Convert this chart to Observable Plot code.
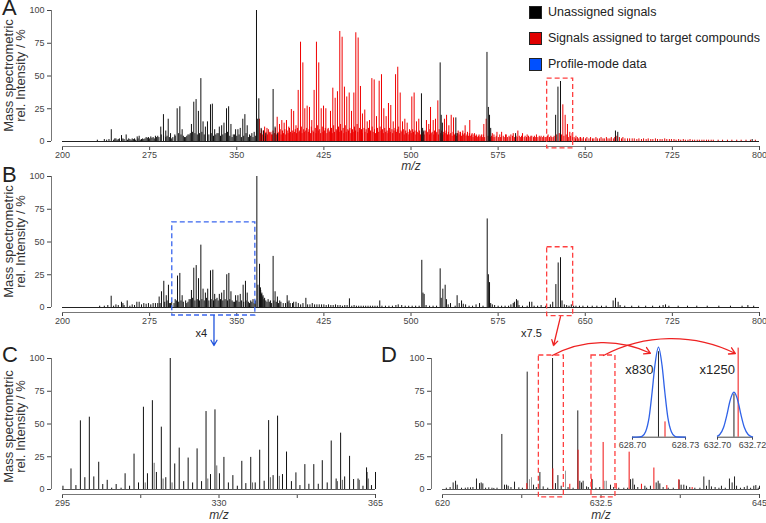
<!DOCTYPE html>
<html><head><meta charset="utf-8">
<script src="https://cdn.jsdelivr.net/npm/d3@7"></script>
<script src="https://cdn.jsdelivr.net/npm/@observablehq/plot@0.6"></script>
<style>
body{margin:0;background:#fff;}
#wrap{position:relative;width:766px;height:523px;overflow:hidden;font-family:"Liberation Sans",Arial,sans-serif;background:#fff;}
.abs{position:absolute;}
.letter{font-size:22px;line-height:22px;color:#222;}
.leg{font-size:12.5px;color:#222;line-height:14px;white-space:nowrap;}
.sw{width:11px;height:11px;border:1px solid #222;}
</style></head><body><div id="wrap">
<div class="abs letter" style="left:2px;top:-3px">A</div>
<div class="abs letter" style="left:2px;top:164px">B</div>
<div class="abs letter" style="left:2px;top:344px">C</div>
<div class="abs letter" style="left:381px;top:344px">D</div>
<div class="abs sw" style="left:529px;top:6px;background:#000"></div>
<div class="abs leg" style="left:548px;top:5px">Unassigned signals</div>
<div class="abs sw" style="left:529px;top:32px;background:#e00000"></div>
<div class="abs leg" style="left:548px;top:31px">Signals assigned to target compounds</div>
<div class="abs sw" style="left:529px;top:58px;background:#0050ff"></div>
<div class="abs leg" style="left:548px;top:57px">Profile-mode data</div>
</div>
<script>
const FONT = '"Liberation Sans", Arial, sans-serif';
const wrap = document.getElementById("wrap");

// ---------- axis ticks ----------
const abTicks = [200,275,350,425,500,575,650,725,800];
const cTicks = [295,312.5,330,347.5,365];
const cTickLabels = [295,330,365];
const dTicks = [620,626.25,632.5,638.75,645];
const dTickLabels = [620,632.5,645];
const yTicks = [0,25,50,75,100];
const yTitle = "Mass spectrometric\nrel. Intensity / %";

// ---------- Panel A ----------
const aBlackMain = [[242,9],[246,2],[248,1.5],[250.8,4.5],[252,2],[254.8,5],[258,1.5],[262,2],[264.3,3.5],[266,4],[268,1.5],[272,3],[274,3],[276,3.5],[278,3],[280,4],[282,4],[284.6,11],[286.9,20.5],[288.9,8],[291,17],[293,6],[296.7,5],[298.7,25],[301,26.5],[303,9],[305,3],[307,4],[309,5],[311,13],[313,30],[315,32],[317,23],[319.1,48],[321,15],[323,11],[324.8,15],[327.4,28],[329,28.5],[331,9],[333,6],[335,11],[337,12],[339,14],[341.2,25],[343,26.5],[345,13],[347,5],[349,9],[351,9],[353,10],[355.2,17],[357,20.5],[359,12],[361,5],[363,6],[365,7],[367,100],[368,17],[369,32.6],[371,10],[373,8],[375,6],[381.3,39.7],[383,11],[385,6],[509,36.4],[510,10],[511,8],[525.1,60],[526,20],[527,14],[538.6,18],[539.6,6],[565.4,68],[566.6,26],[567.6,20],[568.6,10],[590,6],[624.5,20],[626.5,41.5],[628.7,45.8],[676,8],[678,7],[793.7,1.5]];
const aBlackFloor = [[230,1],[236,1.5],[238,1],[240,1.5],[244,1],[245,2],[247,1],[249,2],[251,1.5],[253,1.5],[256,1],[257,2],[259,1],[260,2],[261,1.5],[263,1],[265,2],[267,1],[269,2],[270,1.5],[271,2],[273,2.5],[275,2],[277,2.5],[279,2],[281,3],[283,3],[285,5],[287,4],[289,3],[290,4],[292,3],[294,2],[295,3],[297,4],[300,6],[302,5],[304,4],[306,3],[308,5],[310,6],[312,7],[314,6],[316,5],[318,6],[320,7],[322,5],[326,5],[328,6],[330,4],[332,5],[334,6],[336,4],[338,5],[340,6],[342,7],[344,4],[346,3],[348,5],[350,4],[352,5],[354,3],[356,4],[358,6],[360,3],[362,4],[364,3],[366,4]];
const aRedMain = [[369.5,17],[371.5,8],[374,11],[376,10],[378,7],[380,5],[384.8,18.5],[386.8,13],[388.8,16],[390.8,14],[392.8,16],[394.8,11],[397,24.4],[399,23],[401,12],[402.9,39],[404.9,75.8],[406.9,60],[408.6,25],[410.6,27],[412.6,26],[414.6,16],[416.6,39],[418.6,75.8],[420.6,60],[422.7,25],[424.7,27],[426.7,25],[428.7,10],[430.7,23],[432.7,40.7],[434.7,33],[436.7,38],[438.7,84],[440.7,79.6],[442.7,41.5],[444.7,34],[446.8,37],[448.8,23],[450.8,37],[452.5,83],[454.5,79],[456.5,42],[458.2,21],[460.2,24],[462.3,15],[464.3,16],[466.3,48],[468.3,47],[470.3,19],[472.6,46],[474.6,51],[476.6,25],[478.6,19],[480.6,29],[482.6,27.5],[484.7,15],[486.7,51],[488.6,56.7],[490.7,37],[492.7,15],[494.7,17],[496.7,14],[498.7,9],[500.7,34],[502.7,37],[504.7,15],[506.7,17],[513.3,16],[515.3,13],[516.8,26],[519.1,16],[521.1,17],[523.1,31],[528.8,17],[530.6,20],[532.6,12],[534.6,20],[536.6,18],[540.6,8],[542.6,7],[544.6,8],[546.6,12],[548.6,7],[550.6,16],[552.6,6],[554.6,6],[556.6,4],[558.6,5],[560.6,5],[562.7,13],[564.7,17],[570,6],[574,7],[578,7],[582,5],[586,5],[588,6],[592,8],[596,6],[600,5],[604,4],[608,5],[612,4],[618,5],[630.7,28],[632.7,20],[634.7,13],[636.7,7],[638.7,6],[642,4],[646,3]];
const aRedFloor = [[370.4,6],[371.2,9],[372.4,5],[373.2,8],[374.6,4],[375.2,7],[376.4,5],[377.2,9],[378.6,6],[379.4,7],[380.6,5],[381.2,8],[382.4,6],[383.2,10],[384.4,5],[385.6,7],[386.2,6],[387.4,9],[388.2,5],[389.4,8],[390.2,6],[391.4,9],[392.2,5],[393.4,8],[394.2,6],[395.4,10],[396.2,7],[397.8,6],[398.2,8],[399.6,7],[400.4,9],[401.4,6],[402.2,10],[403.6,7],[404.2,8],[405.6,11],[406.2,6],[407.6,9],[408.2,7],[409.4,8],
[410.2,10],[411.6,7],[412.2,9],[413.4,6],[414.2,11],[415.6,8],[416.2,7],[417.6,10],[418.2,6],[419.4,12],[420.2,8],[421.4,9],[422.2,6],[423.6,11],[424.2,7],[425.4,8],[426.2,10],[427.6,6],[428.4,9],[429.6,7],[430.2,8],[431.6,10],[432.2,6],[433.4,12],[434.2,7],[435.6,9],[436.2,8],[437.6,11],[438.2,7],[439.4,13],[440.2,8],[441.6,10],[442.2,6],[443.4,12],[444.2,7],[445.6,9],[446.2,8],[447.4,10],[448.2,6],[449.6,9],[450.2,7],[451.4,11],[452.2,8],[453.6,13],[454.2,7],[455.6,10],[456.2,8],[457.4,9],[458.2,6],[459.6,10],
[460.4,7],[461.4,9],[462.6,6],[463.4,10],[464.6,7],[465.2,8],[466.6,11],[467.4,7],[468.6,9],[469.4,6],[470.6,8],[471.2,10],[472.2,7],[473.4,11],[474.2,8],[475.4,9],[476.2,6],[477.4,10],[478.2,7],[479.4,8],[480.2,6],[481.4,10],[482.2,7],[483.6,9],[484.2,6],[485.4,8],[486.2,10],[487.4,7],[488.2,9],[489.4,11],[490.2,6],[491.4,8],[492.2,7],[493.4,9],[494.2,5],[495.4,8],[496.2,6],[497.4,7],[498.2,5],[499.4,8],[500.2,6],[501.4,9],[502.2,7],[503.4,8],[504.2,5],[505.4,7],[506.2,6],[507.4,8],[508.2,5],[509.6,6],[510.6,7],[511.4,5],[512.2,8],[513.8,6],[514.4,7],[515.8,5],[516.2,9],[517.4,6],[518.2,7],[519.6,5],
[520.2,8],[521.6,6],[522.2,7],[523.6,5],[524.2,9],[525.6,6],[526.4,8],[527.6,5],[528.2,7],[529.4,6],[530.2,8],[531.4,5],[532.2,7],[533.4,5],[534.2,6],[535.4,4],[536.2,7],[537.4,5],[538.2,6],[539.4,4],[540.2,6],[541.4,5],[542.2,7],[543.4,4],[544.2,6],[545.4,5],[546.2,6],[547.4,4],[548.2,5],[549.4,4],[550.2,6],[551.4,4],[552.2,5],[553.4,3],[554.2,5],[555.4,4],[556.2,5],[557.4,3],[558.2,4],[559.4,3],
[560.2,4],[561.4,3],[562.2,5],[563.4,3],[566.4,4],[568.2,3],[569.4,4],[570.6,3],[571.4,5],[572.2,3],[573.4,4],[575.2,3],[576.4,5],[577.2,3],[579.4,4],[580.2,3],[581.4,5],[583.2,3],[584.4,4],[585.2,3],[587.4,4],[589.2,3],[590.4,4],[591.4,3],[593.2,4],[594.4,3],[595.2,4],[597.4,3],[598.2,4],[599.4,3],[601.2,4],[602.4,3],[603.2,4],[605.4,3],[606.2,4],[607.4,3],[609.2,3],[610.4,4],[611.2,3],[613.4,3],[614.2,4],[615.4,3],[616.2,3],[617.4,4],[619.2,3],[620.4,4],[621.2,3],[622.4,3],[623.2,4],[625.4,5],[627.6,6],[629.6,5],[631.6,4],[633.6,5],[635.4,3],[637.4,4],[639.2,3],
[640.4,3],[641.6,2],[643.2,3],[644.4,2],[645.6,3],[647.2,2],[648.4,3],[650.2,2],[651.4,3],[653.2,2],[654.6,3],[656.2,2],[657.4,2],[659.2,3],[660.4,2],[662.2,2],[663.6,3],[665.2,2],[666.4,2],[668.2,3],[669.6,2],[671.2,2],[672.4,3],[674.2,2],[675.4,3],[677.2,4],[679.4,3],[681.2,2],[682.4,3],[684.2,2],[686.4,2],[688.2,2],[690.4,2],[692.2,2],[694.4,1.5],[696.2,2],[698.4,1.5],[700.2,2],[702.4,1.5],[704.2,2],[706.4,1.5],[708.2,1.5],[710.4,2],[712.2,1.5],[714.4,1.5],[716.2,1.5],[718.4,2],[720.2,1.5],[722.4,1.5],[724.2,1.5],[726.4,1.5],[728.2,1],[730.4,1.5],[732.2,1],[734.4,1.5],[736.2,1],[738.4,1],[740.2,1.5],[742.4,1],[744.2,1],[746.4,1],[748.2,1],[750.4,1],[752.2,1],[754.4,1],[756.2,1],[758.4,1],[760.2,1],[764.4,1],[768.2,1],[772.4,1],[776.2,1],[780.4,1],[784.2,1],[788.4,1],[792.2,1],[796.4,1]];
const aBoxes = [{x1:617.2, x2:639.6, y1:-5.3, y2:48}];

// ---------- Panel B ----------
const bMain = [[241.9,8.6],[250.8,4],[252,3],[255.7,5],[264,4],[266,4],[270,3],[274,3],[278,3],[282,3],[283.2,8],[285.2,12],[287.2,20],[289.3,9],[291.2,17],[293,3],[297,6],[299,24],[301,26],[303,9],[307,3],[309,6],[311,13],[313,30],[315.1,32],[317.1,22],[319.1,47.6],[321,14],[323,11],[325,14],[327.4,28],[329.4,28.5],[331,10],[333,7],[335,10],[337,11],[339,13],[341.4,25],[343.2,26],[345,12],[347,4],[349,9],[351,9],[353,10],[355.5,17],[357.5,20],[359,11],[362,5],[364,6],[367.3,100],[368.2,17],[369.6,33],[370.4,15],[371.4,10],[372.4,8],[373.4,6],[381.3,39],[383,12],[385,8],[387,5],[393.4,9],[395,5],[401,4],[409.5,7],[447,6.6],[473.1,5],[509.3,36],[510.3,11],[511.3,10],[525.1,29.5],[526,7],[527.4,14],[529.4,17],[530.5,6],[539.7,9],[541.5,3],[543.5,5],[565.6,67.6],[566.6,25],[567.6,19],[568.6,3],[588,3],[589,4],[590.8,6],[592,5],[602,4],[604,4],[622,4],[624.7,17.5],[626.7,34],[628.7,38],[630,5],[674,5],[676,7],[678.3,4],[719.1,2]];
const bFloor = [[232,1],[236,1],[239,1.5],[244,1],[246,2],[248,1.5],[253,1.5],[258,1],[260,2],[262,1.5],[268,2],[272,2.5],[276,2],[280,3],[284,3],[288,4],[290,5],[292,3],[294,4],[296,3],[298,5],[300,4],[302,5],[304,4],[306,5],[308,4],[310,6],[312,7],[314,5],[316,6],[318,5],[320,6],[322,5],[324,7],[326,5],[328,6],[330,5],[332,6],[334,5],[336,6],[338,5],[340,6],[342,5],[344,6],[346,5],[348,4],[350,5],[352,4],[354,5],[356,4],[358,5],[360,4],[361,3],[363,4],[365,3],[366,5],[370.6,13],[371.6,11],[372.6,9],[374,7],[375,5],[376,4],[377,6],[378,4],[379,5],[380,3],[382,5],[384,4],[386,3],[388,4],[390,3],[392,3],[394,4],[396,3],[398,3],[399,4],[403,3],[405,2],[407,3],[411,2],[413,2],[415,3],[417,2],[419,2],[421,2],[423,2],[425,2],[427,1.5],[429,2],[431,1.5],[433,1.5],[435,2],[437,1.5],[439,1.5],[441,1],[443,1.5],[445,1.5],[449,1],[451,1.5],[453,1],[455,1],[457,1],[459,1],[461,1],[463,1],[465,1],[467,1],[469,1],[471,1],[475,1],[478,1],[481,1],[484,1],[487,1.5],[489,2],[492,1.5],[495,1],[498,1],[501,1],[504,1],[507,1],[513,1.5],[516,1],[519,1],[522,1],[532,2],[534,3],[538,1],[545,2.5],[547,2],[550,1],[553,1],[556,2],[559,3],[562,1],[570,2],[572,1.5],[575,1],[578,1],[581,1],[584,1],[586,2],[593,1.5],[596,1],[600,1],[606,1],[609,1],[612,1.5],[616,1],[620,2],[632,2],[634,1.5],[636,1],[638,2],[640,1],[642,1],[645,1],[648,1],[652,1],[656,1],[660,1],[664,1],[668,1],[680,1.5],[684,1],[690,1],[696,1],[702,1],[708,1],[714,1],[717,1.5],[722,1],[730,1],[738,1],[746,1],[755,1],[765,1],[775,1],[785,1],[790,1.5],[795,1]];
const bBlueBoxes = [{x1:294.5, x2:366, y1:-6.1, y2:65}];
const bRedBoxes = [{x1:617.2, x2:639.6, y1:-6.6, y2:46}];
const bBlueArrow = [{x1:330.4, y1:-6.1, x2:330.4, y2:-29}];
const bRedArrow = [{x1:628.7, y1:-7, x2:622.7, y2:-29}];
const bNotes = [{x:319.6, y:-20, t:"x4"}, {x:603.7, y:-20, t:"x7.5"}];

// ---------- Panel C ----------
const cMain = [[295.1,2.5],[296.9,15.7],[298,3],[299,52.4],[300,9],[301,55.2],[302,9.6],[303.1,20.8],[304,3.8],[305,7],[306,1],[307,3.8],[308.1,1],[309,12],[310,2.5],[311,27],[312,5],[313.1,62.8],[314,12],[315.1,67.8],[316,13],[317.1,47.6],[318.1,9],[319.1,100],[320.1,19.5],[321.1,31.6],[322.1,6],[323.1,24],[324.1,5],[325.1,31],[326.1,6],[327.1,59.5],[328.1,11.4],[329.1,60.8],[330.1,12],[331.1,24.5],[332.1,5],[333.1,10.6],[334.1,2.5],[335.1,21.5],[336,4.5],[337.1,24.5],[338.1,5],[339.1,30],[340.1,6.3],[341.1,52.6],[342.1,10.6],[343.1,56],[344.2,11.4],[345.1,28.6],[346.2,6],[347.2,12.7],[348.1,3],[349.2,19],[350.1,4],[351.2,19],[352.2,4],[353.1,22],[354.2,5],[355.1,37],[356.2,8],[357.2,43],[358.1,9.6],[359.2,25.3],[360.1,7.6],[361.1,8],[362.2,2.5],[363,16.5],[363.1,13],[364.1,3],[365,13]];
const cMinor = [[313.5,5],[315.5,20],[317.5,8],[319.5,5],[327.5,8],[329.5,18],[337.5,5],[341.5,9],[343.5,10],[356.5,6],[357.6,7],[361.4,7],[363.4,8]];

// ---------- Panel D ----------
const dBlack = [[620.84,5],[621.03,6.3],[621.16,3.3],[622,1.3],[622.21,1.3],[622.68,8],[622.92,4.5],[623.05,5],[623.18,4.3],[623.65,1.3],[624.05,0.8],[624.68,42],[624.89,3.3],[625.05,3.3],[625.18,2.5],[625.68,5.6],[626.02,1.3],[626.68,89.6],[627.18,3.3],[627.68,13],[627.94,2],[628.68,100],[628.91,4.5],[629.1,10.6],[629.36,2.5],[630.67,60],[630.83,6.3],[630.96,5],[631.09,6.3],[631.36,2],[631.8,7.5],[633.25,3.3],[634.83,7.5],[635.01,8],[635.14,3.3],[635.96,2.5],[636.4,2.5],[636.85,5],[637.01,6.3],[637.14,4.3],[638.66,7],[638.82,3.3],[639.03,3.3],[639.24,2.5],[640.61,9.6],[640.82,2.5],[641.03,7],[641.21,2],[642,2.5],[642.63,8],[642.84,5],[643.03,9.6],[643.19,2.5],[644.03,2.5],[644.55,2.5],[644.71,3],[645,2.5]];
const dGray = [[626.86,7.5],[627.02,9],[629.7,14],[632.8,6.3],[632.93,6.3]];
const dRed = [[626.65,4.5],[628.7,15.7],[630.04,4],[630.69,30],[631.75,8],[632.67,35.9],[633.7,4.5],[634.72,28.5],[635.69,4],[636.67,16.4],[637.69,3],[638.64,7.5],[639.69,1.5]];
const dFloor = [[620.3,1],[620.6,1.5],[621.5,1],[621.8,1],[622.4,1.5],[623.4,1],[623.9,1],[624.3,1],[625.4,1.5],[626.3,1],[627.4,1.5],[628.3,1],[629.9,1.5],[630.3,1],[631.5,1.5],[632.1,1],[632.4,1.5],[633.5,1.5],[633.9,1],[634.3,1],[634.6,1],[635.4,1.5],[636.1,1],[637.4,1.5],[637.8,1],[638.2,1],[639.5,1.5],[639.9,1],[640.3,1],[641.5,1.5],[641.8,1],[642.3,1],[643.5,1],[643.8,1.5],[644.3,1],[644.9,1]];
const dBoxes = [{x1:627.6, x2:629.57, y1:-6, y2:102.3},{x1:631.75, x2:633.64, y1:-6, y2:102.3}];
const dArrows = [{x1:628.65, y1:102.3, x2:636.4, y2:104},{x1:632.7, y1:102.3, x2:643.1, y2:103.8}];

// ---------- Insets (profile-mode) ----------
const inLDomain = [628.70, 628.73];
const inLProfile = [[628.700,0],[628.704,0.3],[628.7054,1],[628.7074,6],[628.7094,22],[628.7111,50],[628.7127,80],[628.7147,100],[628.7167,80],[628.7183,50],[628.7200,22],[628.7220,6],[628.7240,1],[628.726,0.2],[628.730,0]];
const inLBlack = [[628.7147,95]];
const inLRed = [[628.7184,17]];
const inLNote = [{x:628.7119, y:75, t:"x830"}];
const inRDomain = [632.70, 632.72];
const inRProfile = [[632.700,1.2],[632.7013,3],[632.7035,11],[632.7054,25],[632.7071,40],[632.7094,50],[632.7117,40],[632.7134,25],[632.7153,11],[632.7175,3],[632.7197,0.5],[632.720,0.3]];
const inRBlack = [[632.7094,48]];
const inRRed = [[632.7118,99]];
const inRNote = [{x:632.7100, y:75, t:"x1250"}];

// ---------- helpers ----------
function sticks(data, color, w=1) {
  return Plot.ruleX(data, {x: d => d[0], y1: 0, y2: d => d[1], stroke: color, strokeWidth: w});
}
function place(svg, left, top) {
  svg.style.position = "absolute";
  svg.style.left = left + "px";
  svg.style.top = top + "px";
  wrap.appendChild(svg);
}
const baseStyle = {fontFamily: FONT, background: "transparent", overflow: "visible"};

function spectrumPanel(o) {
  const marks = [
    Plot.ruleX([o.domain[0]], {y1: 0, y2: 100, dx: -11, stroke: "#777"}),
    Plot.axisY({ticks: yTicks, tickSize: 4, tickPadding: 3, fontSize: 9, color: "#444", label: null}),
    Plot.axisX({ticks: o.ticks, tickFormat: d => o.labels.includes(d) ? String(d) : "", tickSize: 4, tickPadding: 1.5, fontSize: 9, color: "#444", label: null}),
    Plot.ruleY([0], {x1: o.domain[0], x2: o.domain[1], dy: 5, stroke: "#777"}),
    ...o.layers,
    Plot.ruleY([0], {x1: o.domain[0], x2: o.domain[1], stroke: o.baseColor}),
    ...(o.extra || [])
  ];
  if (o.mzDy) marks.push(Plot.text(["m/z"], {frameAnchor: "bottom", textAnchor: "middle", dx: 5.5, dy: o.mzDy, fontStyle: "italic", fontSize: 12, fill: "#333"}));
  if (o.title) marks.push(Plot.text([o.title], {frameAnchor: "left", textAnchor: "middle", lineAnchor: "middle", rotate: -90, dx: -36.5, dy: o.titleDy, fontSize: 13, lineHeight: 0.92, fill: "#333"}));
  const svg = Plot.plot({
    width: o.width, height: 175, marginLeft: 51, marginRight: o.marginRight, marginTop: 10, marginBottom: 29,
    x: {domain: o.domain, insetLeft: 11}, y: {domain: [0, 100], insetBottom: 5},
    style: baseStyle, marks
  });
  place(svg, o.left, o.top);
}

const redDash = {fill: "none", stroke: "#ff4040", strokeWidth: 1.3, strokeDasharray: "5,3"};
const blueDash = {fill: "none", stroke: "#3a66ee", strokeWidth: 1.3, strokeDasharray: "5,3"};

// A
spectrumPanel({
  left: 0, top: 0, width: 766, marginRight: 7, domain: [200, 800], ticks: abTicks, labels: abTicks,
  baseColor: "#222", mzDy: 23, title: yTitle, titleDy: -3,
  layers: [sticks(aBlackFloor, "#111"), sticks(aRedFloor, "#e80000"), sticks(aRedMain, "#f00000"), sticks(aBlackMain, "#111")],
  extra: [Plot.rect(aBoxes, {x1: "x1", x2: "x2", y1: "y1", y2: "y2", ...redDash})]
});

// B
spectrumPanel({
  left: 0, top: 166, width: 766, marginRight: 7, domain: [200, 800], ticks: abTicks, labels: abTicks,
  baseColor: "#222", mzDy: 0, title: yTitle, titleDy: -3,
  layers: [sticks(bFloor, "#111"), sticks(bMain, "#111")],
  extra: [
    Plot.rect(bBlueBoxes, {x1: "x1", x2: "x2", y1: "y1", y2: "y2", ...blueDash}),
    Plot.rect(bRedBoxes, {x1: "x1", x2: "x2", y1: "y1", y2: "y2", ...redDash}),
    Plot.arrow(bBlueArrow, {x1: "x1", y1: "y1", x2: "x2", y2: "y2", stroke: "#2255dd", strokeWidth: 1.3, headLength: 7}),
    Plot.arrow(bRedArrow, {x1: "x1", y1: "y1", x2: "x2", y2: "y2", stroke: "#ee2222", strokeWidth: 1.3, headLength: 7}),
    Plot.text(bNotes, {x: "x", y: "y", text: "t", fontSize: 11, fill: "#222"})
  ]
});

// C
spectrumPanel({
  left: 0, top: 348, width: 390, marginRight: 15, domain: [295, 365], ticks: cTicks, labels: cTickLabels,
  baseColor: "#555", mzDy: 24, title: yTitle, titleDy: 0,
  layers: [sticks(cMinor, "#666"), sticks(cMain, "#111")]
});

// D
spectrumPanel({
  left: 380, top: 348, width: 386, marginRight: 7, domain: [620, 645], ticks: dTicks, labels: dTickLabels,
  baseColor: "#555", mzDy: 24, title: null,
  layers: [sticks(dFloor, "#222"), sticks(dGray, "#999"), sticks(dBlack, "#222"), sticks(dRed, "#f01010")],
  extra: [
    Plot.rect(dBoxes, {x1: "x1", x2: "x2", y1: "y1", y2: "y2", ...redDash}),
    Plot.arrow(dArrows, {x1: "x1", y1: "y1", x2: "x2", y2: "y2", bend: 27, stroke: "#ee2222", strokeWidth: 1.3, headLength: 8})
  ]
});

// Insets
function inset(o) {
  const svg = Plot.plot({
    width: o.width, height: 130, marginLeft: o.ml, marginRight: o.mr, marginTop: 16.7, marginBottom: 23.3,
    x: {domain: o.domain}, y: {domain: [0, 100], axis: null},
    style: baseStyle,
    marks: [
      Plot.axisX({ticks: o.domain, tickFormat: ".2f", tickSize: 3, tickPadding: 1.5, fontSize: 9, color: "#444", label: null}),
      Plot.ruleY([0], {stroke: "#444"}),
      sticks(o.black, "#222"),
      sticks(o.red, "#f01010"),
      Plot.line(o.profile, {x: d => d[0], y: d => d[1], stroke: "#2f62e8", strokeWidth: 1.3, curve: "monotone-x"}),
      Plot.text(o.note, {x: "x", y: "y", text: "t", textAnchor: "end", fontSize: 13, fill: "#222"})
    ]
  });
  place(svg, o.left, 330);
}
inset({left: 600, width: 100, ml: 32, mr: 15, domain: inLDomain, profile: inLProfile, black: inLBlack, red: inLRed, note: inLNote});
inset({left: 700, width: 66, ml: 17, mr: 14, domain: inRDomain, profile: inRProfile, black: inRBlack, red: inRRed, note: inRNote});
</script></body></html>
